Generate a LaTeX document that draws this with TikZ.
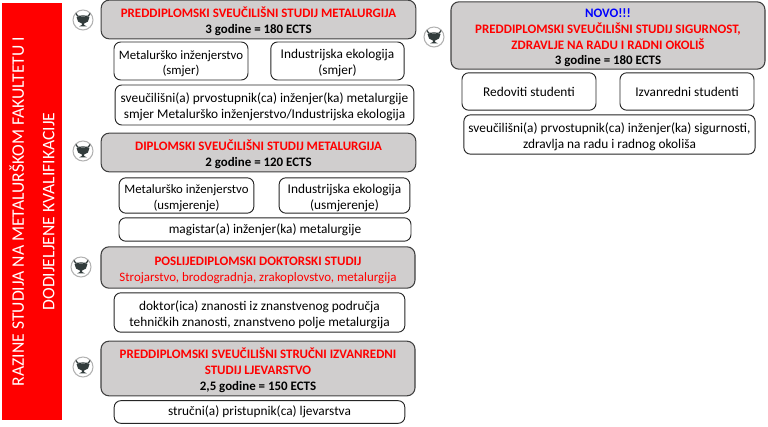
\documentclass[tikz,border=0pt]{standalone}
\usepackage{fontspec}
\setmainfont{Carlito}
\definecolor{headgrey}{RGB}{208,206,206}
\definecolor{edgegrey}{RGB}{64,64,64}
\definecolor{logodark}{RGB}{50,60,60}
\newcommand{\prvired}{\rule{0pt}{10.5pt}}
\tikzset{
    headbox/.style={draw=edgegrey, line width=0.8pt, fill=headgrey, rounded corners=6pt, align=center, font=\fontsize{9.7}{11.8}\selectfont, inner sep=0pt},
    subbox/.style={draw=black!85, line width=0.7pt, fill=white, rounded corners=5pt, align=center, font=\fontsize{10}{11.8}\selectfont, inner sep=0pt},
    sidebar/.style={fill=red, text=white, align=center, font=\fontsize{13.2}{23}\selectfont, inner sep=0pt},
    smjerbox/.style={subbox, font=\fontsize{9.6}{11.8}\selectfont},
    logo/.pic={
        \draw [black!30, fill=white, line width=0.8pt] (0,0) circle (10);
        \fill [logodark] (-6.5,-3) -- (6.5,-3) -- (5,1.5) -- (1.2,3.5) -- (1.2,5) -- (4,6.5) -- (-4,6.5) -- (-1.2,5) -- (-1.2,3.5) -- (-5,1.5) -- cycle;
        \draw [logodark, line width=0.9pt] (-7,-6.5) .. controls (-6,-3.5) .. (0,-4) .. controls (6,-3.5) .. (7,-6.5);
    }
}
\begin{document}
\begin{tikzpicture}[x=0.75pt, y=-0.75pt]
    \useasboundingbox (0,0) rectangle (768,427);
    \node [sidebar, minimum width=312.75pt, minimum height=45pt, rotate=90] (razine) at (32,211.5) {RAZINE STUDIJA NA METALURŠKOM FAKULTETU I\\DODIJELJENE KVALIFIKACIJE};

    % lijevi stupac
    \node [headbox, minimum width=236pt, minimum height=29pt] (preddipl) at (258.5,19.5) {\prvired\textcolor{red}{\textbf{PREDDIPLOMSKI SVEUČILIŠNI STUDIJ METALURGIJA}}\\\textbf{3 godine = 180 ECTS}};
    \node [smjerbox, minimum width=100.5pt, minimum height=28.5pt] (metal) at (181,61) {\prvired Metalurško inženjerstvo\\(smjer)};
    \node [subbox, minimum width=100pt, minimum height=28.5pt] (ekolog) at (337.5,61) {\prvired Industrijska ekologija\\(smjer)};
    \node [subbox, minimum width=224pt, minimum height=30pt] (prvost) at (264.5,105) {\prvired sveučilišni(a) prvostupnik(ca) inženjer(ka) metalurgije\\smjer Metalurško inženjerstvo/Industrijska ekologija};

    \node [headbox, minimum width=236pt, minimum height=29pt] (dipl) at (258.5,152.5) {\prvired\textcolor{red}{\textbf{DIPLOMSKI SVEUČILIŠNI STUDIJ METALURGIJA}}\\\textbf{2 godine = 120 ECTS}};
    \node [smjerbox, minimum width=101pt, minimum height=26.5pt] (metalu) at (186.5,195.5) {\prvired Metalurško inženjerstvo\\(usmjerenje)};
    \node [subbox, minimum width=98pt, minimum height=26.5pt] (ekologu) at (344.5,195.5) {\prvired Industrijska ekologija\\(usmjerenje)};
    \node [subbox, minimum width=219pt, minimum height=17.5pt] (magistar) at (265,229.5) {magistar(a) inženjer(ka) metalurgije};

    \node [headbox, minimum width=235.5pt, minimum height=31pt] (doktorski) at (258,267.5) {\prvired\textcolor{red}{\textbf{POSLIJEDIPLOMSKI DOKTORSKI STUDIJ}}\\\textcolor{red}{Strojarstvo, brodogradnja, zrakoplovstvo, metalurgija}};
    \node [subbox, minimum width=218pt, minimum height=29.5pt] (doktor) at (259.5,312.5) {\prvired doktor(ica) znanosti iz znanstvenog područja\\tehničkih znanosti, znanstveno polje metalurgija};

    \node [headbox, minimum width=235.5pt, minimum height=41pt] (strucni) at (258,368.5) {\prvired\textcolor{red}{\textbf{PREDDIPLOMSKI SVEUČILIŠNI STRUČNI IZVANREDNI}}\\\textcolor{red}{\textbf{STUDIJ LJEVARSTVO}}\\\textbf{2,5 godine = 150 ECTS}};
    \node [subbox, minimum width=218pt, minimum height=17pt] (pristup) at (259.5,412) {stručni(a) pristupnik(ca) ljevarstva};

    % desni stupac
    \node [headbox, minimum width=235.5pt, minimum height=50.5pt] (novo) at (608,35.5) {\prvired\textcolor{blue}{\textbf{NOVO!!!}}\\\textcolor{red}{\textbf{PREDDIPLOMSKI SVEUČILIŠNI STUDIJ SIGURNOST,}}\\\textcolor{red}{\textbf{ZDRAVLJE NA RADU I RADNI OKOLIŠ}}\\\textbf{3 godine = 180 ECTS}};
    \node [subbox, minimum width=100.5pt, minimum height=28pt] (redoviti) at (529,91.5) {Redoviti studenti};
    \node [subbox, minimum width=100.5pt, minimum height=28pt] (izvanredni) at (687,91.5) {Izvanredni studenti};
    \node [subbox, minimum width=218.5pt, minimum height=29.5pt] (sigurnost) at (609.5,134.5) {\prvired sveučilišni(a) prvostupnik(ca) inženjer(ka) sigurnosti,\\zdravlja na radu i radnog okoliša};

    \pic at (83,20) {logo};
    \pic at (83,151) {logo};
    \pic at (81,267) {logo};
    \pic at (83,367) {logo};
    \pic at (434,37) {logo};
\end{tikzpicture}
\end{document}
